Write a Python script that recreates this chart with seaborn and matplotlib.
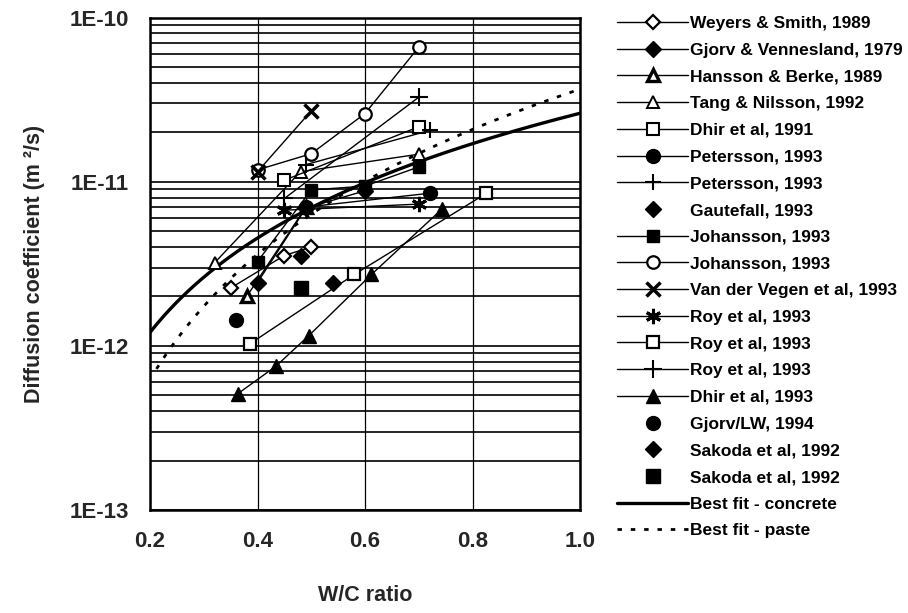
import numpy as np
import pandas as pd
import matplotlib
matplotlib.use("Agg")
import matplotlib.pyplot as plt
import seaborn as sns
from matplotlib.ticker import FixedLocator, LogLocator, NullFormatter

sns.set_theme(style="white")
plt.rcParams["font.family"] = ["Liberation Sans", "DejaVu Sans"]

# ---- measured chloride diffusion coefficients (m^2/s) vs W/C ratio ----
weyers_wc = [0.35, 0.45, 0.50]
weyers_d = [2.25e-12, 3.55e-12, 4.0e-12]

gjorv_venn_wc = [0.40, 0.49, 0.60]
gjorv_venn_d = [2.43e-12, 6.9e-12, 8.8e-12]

hansson_wc = [0.38, 0.49]
hansson_d = [2.0e-12, 7.0e-12]

tang_wc = [0.32, 0.48, 0.70]
tang_d = [3.2e-12, 1.15e-11, 1.47e-11]

dhir91_wc = [0.45, 0.70]
dhir91_d = [1.02e-11, 2.16e-11]

petersson_c_wc = [0.49, 0.72]
petersson_c_d = [7.0e-12, 8.5e-12]

petersson_p_wc = [0.49, 0.72]
petersson_p_d = [1.27e-11, 2.05e-11]

gautefall_wc = [0.48]
gautefall_d = [3.55e-12]

johansson_s_wc = [0.40, 0.50, 0.60, 0.70]
johansson_s_d = [3.26e-12, 8.9e-12, 9.4e-12, 1.23e-11]

johansson_o_wc = [0.40, 0.50, 0.60, 0.70]
johansson_o_d = [1.18e-11, 1.48e-11, 2.6e-11, 6.6e-11]

vegen_wc = [0.40, 0.50]
vegen_d = [1.15e-11, 2.7e-11]

roy_star_wc = [0.45, 0.70]
roy_star_d = [6.7e-12, 7.3e-12]

roy_sq_wc = [0.386, 0.58, 0.826]
roy_sq_d = [1.03e-12, 2.72e-12, 8.5e-12]

roy_plus_wc = [0.45, 0.70]
roy_plus_d = [7.9e-12, 3.27e-11]

dhir93_wc = [0.363, 0.434, 0.495, 0.612, 0.743]
dhir93_d = [5.1e-13, 7.5e-13, 1.15e-12, 2.72e-12, 6.8e-12]

gjorv_lw_wc = [0.36]
gjorv_lw_d = [1.43e-12]

sakoda_dia_wc = [0.54]
sakoda_dia_d = [2.43e-12]

sakoda_sq_wc = [0.48]
sakoda_sq_d = [2.24e-12]

# power-law trend lines  D = coef * (W/C)^exp
concrete_coef, concrete_exp = 2.61e-11, 1.91
paste_coef, paste_exp = 3.66e-11, 2.53

x_ticks = [0.2, 0.4, 0.6, 0.8, 1.0]
x_tick_labels = ["0.2", "0.4", "0.6", "0.8", "1.0"]
y_ticks = [1e-13, 1e-12, 1e-11, 1e-10]
y_tick_labels = ["1E-13", "1E-12", "1E-11", "1E-10"]

W, H = 908, 613
fig = plt.figure(figsize=(W / 100, H / 100), dpi=100)
ax = fig.add_axes([150 / W, 1 - 510 / H, 430 / W, 492.5 / H])

WHITE, BLACK = "white", "black"
series = [
    # label, wc, d, marker, face, size, mew, line
    ("Weyers & Smith, 1989", weyers_wc, weyers_d, "D", WHITE, 7, 1.6, True),
    ("Gjorv & Vennesland, 1979", gjorv_venn_wc, gjorv_venn_d, "D", BLACK, 8, 1.0, True),
    ("Hansson & Berke, 1989", hansson_wc, hansson_d, "^", WHITE, 8, 2.4, True),
    ("Tang & Nilsson, 1992", tang_wc, tang_d, "^", WHITE, 9, 1.4, True),
    ("Dhir et al, 1991", dhir91_wc, dhir91_d, "s", WHITE, 9, 1.5, True),
    ("Petersson, 1993", petersson_c_wc, petersson_c_d, "o", BLACK, 10, 1.0, True),
    ("Petersson, 1993", petersson_p_wc, petersson_p_d, "+", BLACK, 11, 1.5, True),
    ("Gautefall, 1993", gautefall_wc, gautefall_d, "D", BLACK, 8, 1.0, False),
    ("Johansson, 1993", johansson_s_wc, johansson_s_d, "s", BLACK, 9, 1.0, True),
    ("Johansson, 1993", johansson_o_wc, johansson_o_d, "o", WHITE, 9, 1.6, True),
    ("Van der Vegen et al, 1993", vegen_wc, vegen_d, "x", BLACK, 10, 2.5, True),
    ("Roy et al, 1993", roy_star_wc, roy_star_d, (6, 2, 0), BLACK, 11, 2.2, True),
    ("Roy et al, 1993", roy_sq_wc, roy_sq_d, "s", WHITE, 9, 1.6, True),
    ("Roy et al, 1993", roy_plus_wc, roy_plus_d, "+", BLACK, 13, 1.5, True),
    ("Dhir et al, 1993", dhir93_wc, dhir93_d, "^", BLACK, 10, 1.0, True),
    ("Gjorv/LW, 1994", gjorv_lw_wc, gjorv_lw_d, "o", BLACK, 10, 1.0, False),
    ("Sakoda et al, 1992", sakoda_dia_wc, sakoda_dia_d, "D", BLACK, 8, 1.0, False),
    ("Sakoda et al, 1992", sakoda_sq_wc, sakoda_sq_d, "s", BLACK, 10, 1.0, False),
]

handles, labels = [], []
for label, wc, d, mk, face, ms, mew, line in series:
    df = pd.DataFrame({"wc": wc, "D": d})
    n_before = len(ax.lines)
    sns.lineplot(data=df, x="wc", y="D", ax=ax, sort=False, estimator=None,
                 color=BLACK, linewidth=1.0 if line else 0,
                 linestyle="-" if line else "none",
                 marker=mk, markersize=ms, markerfacecolor=face,
                 markeredgecolor=BLACK, markeredgewidth=mew, zorder=4)
    handles.append(ax.lines[n_before])
    labels.append(label)

# best-fit curves
wc_conc = np.linspace(0.2, 1.0, 200)
wc_paste = np.linspace(0.212, 1.0, 200)
fit_df = pd.DataFrame({"wc": wc_conc, "D": concrete_coef * wc_conc ** concrete_exp})
paste_df = pd.DataFrame({"wc": wc_paste, "D": paste_coef * wc_paste ** paste_exp})
n0 = len(ax.lines)
sns.lineplot(data=fit_df, x="wc", y="D", ax=ax, color=BLACK, linewidth=2.4,
             sort=False, estimator=None, zorder=3)
handles.append(ax.lines[n0]); labels.append("Best fit - concrete")
n0 = len(ax.lines)
sns.lineplot(data=paste_df, x="wc", y="D", ax=ax, color=BLACK, linewidth=2.0,
             linestyle=(0, (1.6, 3.2)), sort=False, estimator=None, zorder=3)
handles.append(ax.lines[n0]); labels.append("Best fit - paste")

ax.set_yscale("log")
ax.set_xlim(0.2, 1.0)
ax.set_ylim(1e-13, 1e-10)
ax.xaxis.set_major_locator(FixedLocator(x_ticks))
ax.set_xticklabels(x_tick_labels)
ax.yaxis.set_major_locator(FixedLocator(y_ticks))
ax.set_yticklabels(y_tick_labels)
ax.yaxis.set_minor_locator(LogLocator(base=10, subs=np.arange(2, 10)))
ax.yaxis.set_minor_formatter(NullFormatter())

ax.grid(True, which="major", axis="y", color=BLACK, linewidth=1.2)
ax.grid(True, which="minor", axis="y", color=BLACK, linewidth=1.2)
ax.grid(True, which="major", axis="x", color=BLACK, linewidth=0.9)
ax.set_axisbelow(True)
for s in ax.spines.values():
    s.set_color(BLACK)
    s.set_linewidth(1.8)
ax.tick_params(axis="both", which="major", direction="out", length=5, width=1.2,
               color=BLACK, labelsize=16, pad=10)
ax.tick_params(axis="y", which="minor", length=0)
for t in ax.get_xticklabels() + ax.get_yticklabels():
    t.set_fontweight("bold")

ax.set_xlabel("W/C ratio", fontsize=15.5, fontweight="bold", labelpad=24)
ax.set_ylabel("Diffusion coefficient (m ²/s)", fontsize=15.5, fontweight="bold",
              labelpad=18)

leg = ax.legend(handles, labels, loc="upper left",
                bbox_to_anchor=(617 / W, 1 - 16 / H), bbox_transform=fig.transFigure,
                frameon=False, prop={"size": 12.5, "weight": "bold"},
                handlelength=4.1, handletextpad=0.1,
                labelspacing=0.665, borderpad=0, borderaxespad=0, numpoints=1)
for t in leg.get_texts():
    t.set_color(BLACK)

fig.savefig("out.png", dpi=100, facecolor="white")
